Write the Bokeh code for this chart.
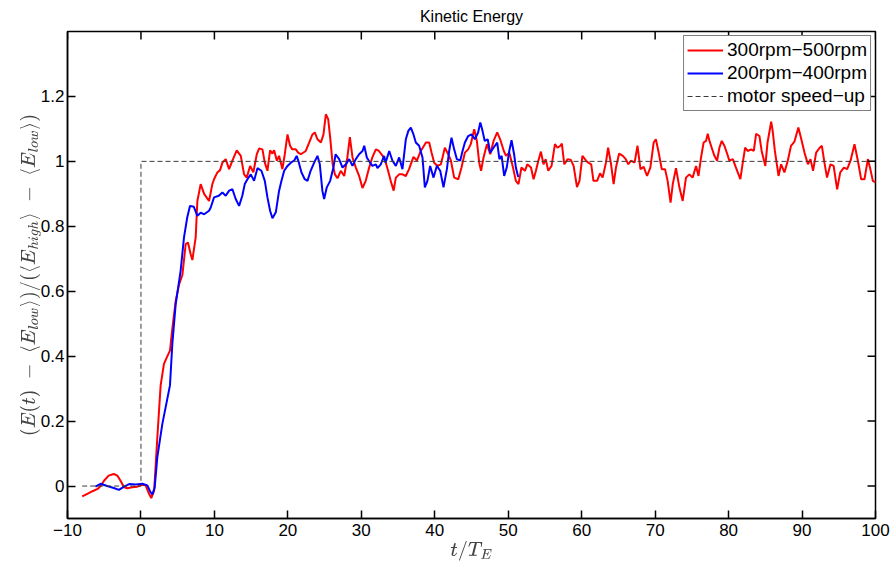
from bokeh.plotting import figure
from bokeh.models import FixedTicker, Legend, LegendItem, Range1d, Title
from bokeh.embed import file_html
from bokeh.resources import INLINE

# ---------------- data ----------------
red_t = [-8.0, -7.3, -6.6, -5.9, -5.5, -5.0, -4.4, -3.7, -3.2, -2.8, -2.3, -1.85, -1.2, -0.5, 0.2, 0.64,
         1.1, 1.4, 1.8, 2.23, 2.68, 3.13, 3.6, 3.95, 4.3, 4.73, 5.18, 5.64, 6.09, 6.4, 6.77, 7.0, 7.45,
         7.68, 8.13, 8.6, 9.27, 9.72, 9.95, 10.4, 10.77, 11.09, 11.54, 12.0, 12.45, 13.04, 13.59, 14.04,
         14.4, 14.86, 15.3, 15.77, 16.1, 16.54, 16.86, 17.22, 17.58, 17.9, 18.13, 18.5, 18.8, 19.26, 19.58,
         19.95, 20.3, 20.6, 21.08, 21.4, 21.76, 22.44, 22.9, 23.35, 23.67, 24.03, 24.5, 24.85, 25.17, 25.49,
         25.76, 26.1, 26.4, 26.76, 27.2, 27.67, 28.1, 28.44, 28.8, 29.25, 29.7, 30.16, 30.6, 31.07, 31.5,
         31.98, 32.4, 32.9, 33.33, 33.6, 34.0, 34.4, 34.7, 35.15, 35.6, 36.06, 36.5, 37.1, 37.56, 38.1,
         38.8, 39.24, 39.56, 39.92, 40.37, 40.83, 41.37, 41.83, 42.2, 42.64, 43.2, 43.64, 44.1, 44.55, 44.9,
         45.37, 45.73, 46.05, 46.3, 46.64, 47.1, 47.55, 48.0, 48.5, 48.9, 49.4, 49.7, 50.14, 50.6, 51.04,
         51.4, 51.8, 52.27, 52.6, 53.1, 53.45, 53.77, 54.1, 54.45, 54.8, 55.1, 55.45, 55.9, 56.36, 56.7,
         57.1, 57.3, 57.63, 58.1, 58.54, 58.9, 59.36, 59.7, 60.1, 60.6, 60.9, 61.3, 61.6, 62.1, 62.5, 62.85,
         63.3, 63.6, 64.0, 64.35, 64.67, 65.1, 65.6, 66.0, 66.35, 66.7, 67.2, 67.6, 68.0, 68.44, 68.9, 69.35,
         69.8, 70.1, 70.44, 70.9, 71.35, 71.7, 72.1, 72.4, 72.84, 73.3, 73.75, 74.2, 74.66, 75.1, 75.57,
         75.9, 76.25, 76.6, 76.93, 77.16, 77.4, 77.7, 78.07, 78.43, 78.75, 79.07, 79.43, 79.8, 80.1, 80.57,
         81.0, 81.6, 81.93, 82.25, 82.6, 83.06, 83.43, 83.75, 84.2, 84.5, 85.0, 85.3, 85.8, 86.0, 86.3, 86.8,
         87.15, 87.6, 88.06, 88.5, 88.97, 89.5, 89.9, 90.33, 90.8, 91.15, 91.5, 91.92, 92.4, 92.7, 93.05,
         93.4, 93.87, 94.3, 94.78, 95.2, 95.7, 96.14, 96.6, 97.14, 97.6, 98.05, 98.5, 98.96, 99.3, 99.64, 100.0]
red_e = [-0.032, -0.024, -0.016, -0.009, 0.0, 0.017, 0.032, 0.037, 0.032, 0.017, -0.004, -0.007, -0.004,
         -0.002, 0.004, 0.002, -0.024, -0.037, -0.014, 0.15, 0.31, 0.376, 0.40, 0.417, 0.49, 0.57, 0.62,
         0.65, 0.745, 0.75, 0.714, 0.696, 0.766, 0.878, 0.93, 0.90, 0.878, 0.93, 0.945, 0.966, 0.973, 0.996,
         1.007, 0.976, 1.002, 1.034, 1.017, 0.96, 0.95, 0.986, 0.966, 1.022, 1.04, 1.037, 0.996, 0.971,
         1.034, 1.024, 1.034, 1.002, 1.017, 0.976, 1.022, 1.083, 1.048, 1.037, 1.037, 1.027, 1.022, 1.032,
         1.058, 1.083, 1.089, 1.068, 1.058, 1.083, 1.145, 1.13, 1.073, 0.991, 0.96, 0.948, 0.971, 0.955,
         1.012, 1.075, 1.012, 0.981, 0.955, 0.918, 0.94, 0.981, 1.012, 1.037, 1.032, 1.017, 0.996, 0.975,
         0.94, 0.91, 0.95, 0.96, 0.96, 0.955, 0.976, 1.014, 1.002, 1.032, 1.058, 1.058, 1.027, 0.996, 0.986,
         0.991, 1.042, 1.022, 1.002, 0.95, 0.945, 0.981, 1.027, 1.037, 1.053, 1.099, 1.063, 0.996, 0.971,
         1.012, 1.053, 1.022, 1.063, 1.089, 1.068, 1.032, 1.017, 1.027, 0.986, 0.94, 0.93, 0.981, 0.971,
         0.991, 0.981, 0.945, 0.971, 1.002, 1.03, 0.991, 1.007, 0.971, 0.986, 1.053, 1.042, 1.048, 1.055,
         0.991, 1.007, 1.004, 0.986, 0.921, 0.94, 1.017, 1.002, 0.996, 0.991, 0.94, 0.94, 0.963, 0.95, 0.996,
         1.042, 0.991, 0.93, 0.981, 1.024, 1.017, 1.007, 0.991, 1.002, 0.996, 1.048, 0.976, 0.983, 0.955,
         0.981, 1.058, 1.068, 1.032, 0.976, 0.976, 0.94, 0.873, 0.93, 0.979, 0.92, 0.878, 0.95, 0.96, 0.95,
         0.986, 0.955, 1.012, 1.058, 1.063, 1.085, 1.063, 1.042, 1.017, 1.002, 1.042, 1.063, 1.048, 1.024,
         1.002, 1.007, 0.981, 0.945, 0.996, 1.042, 1.032, 1.037, 1.032, 1.085, 1.078, 1.032, 0.986, 1.058,
         1.122, 1.094, 1.032, 0.955, 0.991, 0.966, 1.002, 1.048, 1.061, 1.104, 1.068, 1.027, 0.991, 1.007,
         0.971, 1.027, 1.042, 1.048, 0.996, 0.95, 0.991, 0.986, 0.914, 0.966, 0.981, 0.976, 1.002, 1.053,
         1.002, 0.945, 0.945, 1.007, 0.976, 0.94, 0.935]

blue_t = [-6.2, -5.5, -4.6, -3.7, -3.0, -2.3, -1.6, -0.7, 0.2, 0.87, 1.3, 1.55, 1.87, 2.23, 2.9, 3.6, 3.95,
          4.27, 4.73, 5.4, 5.86, 6.3, 6.68, 7.2, 7.68, 8.13, 8.6, 9.27, 9.5, 9.95, 10.6, 11.09, 11.54, 12.0,
          12.45, 12.9, 13.36, 13.8, 14.13, 14.5, 14.95, 15.4, 15.86, 16.4, 16.86, 17.22, 17.58, 17.9, 18.36,
          18.8, 19.13, 19.5, 19.95, 20.4, 20.85, 21.2, 21.5, 21.85, 22.3, 22.67, 23.1, 23.58, 24.03, 24.35,
          24.7, 24.94, 25.3, 25.76, 26.2, 26.5, 26.98, 27.44, 27.9, 28.35, 28.8, 29.25, 29.7, 30.16, 30.4,
          30.75, 31.2, 31.5, 31.98, 32.2, 32.65, 33.1, 33.3, 33.8, 34.24, 34.7, 35.15, 35.6, 36.06, 36.4,
          36.74, 37.1, 37.42, 37.87, 38.33, 38.65, 39.0, 39.37, 39.83, 40.28, 40.74, 41.19, 41.65, 41.96,
          42.28, 42.64, 43.0, 43.46, 43.78, 44.1, 44.55, 45.0, 45.46, 45.9, 46.2, 46.5, 46.8, 47.2, 47.55,
          48.0, 48.5, 48.8, 49.1, 49.45, 49.8, 50.14, 50.45, 50.8, 51.04, 51.36]
blue_e = [-0.002, 0.007, 0.0, -0.006, -0.012, -0.002, 0.006, 0.005, 0.007, 0.002, -0.019, -0.026, -0.004,
          0.089, 0.19, 0.27, 0.31, 0.437, 0.56, 0.663, 0.766, 0.827, 0.863, 0.86, 0.832, 0.842, 0.837, 0.848,
          0.858, 0.889, 0.894, 0.904, 0.894, 0.91, 0.914, 0.884, 0.863, 0.894, 0.93, 0.945, 0.96, 0.94, 0.979,
          0.971, 0.94, 0.889, 0.848, 0.825, 0.843, 0.909, 0.94, 0.971, 0.986, 0.996, 1.002, 1.017, 0.996,
          0.966, 0.945, 0.94, 0.971, 0.996, 1.017, 0.991, 0.909, 0.884, 0.92, 0.94, 0.981, 1.022, 1.007,
          0.981, 0.991, 1.007, 0.986, 1.007, 1.022, 1.032, 1.048, 1.012, 0.996, 0.986, 0.991, 0.979, 0.991,
          1.017, 0.996, 1.032, 1.002, 0.986, 1.012, 0.976, 1.068, 1.094, 1.104, 1.083, 1.058, 1.048, 1.012,
          0.92, 0.94, 0.986, 0.95, 0.986, 0.971, 0.92, 0.976, 1.032, 1.073, 1.037, 1.007, 1.002, 1.032,
          1.058, 1.078, 1.083, 1.068, 1.089, 1.12, 1.094, 1.063, 1.068, 1.027, 1.042, 1.058, 1.007, 1.017,
          0.955, 0.981, 1.032, 1.065, 1.022, 0.981, 0.952]

motor_t = [-8, 0, 0, 100]
motor_e = [0, 0, 1, 1]

x_ticks = [-10, 0, 10, 20, 30, 40, 50, 60, 70, 80, 90, 100]
y_ticks = [0, 0.2, 0.4, 0.6, 0.8, 1.0, 1.2]
x_tick_labels = {-10: "\u221210"}
y_tick_labels = {0: "0", 0.2: "0.2", 0.4: "0.4", 0.6: "0.6", 0.8: "0.8", 1.0: "1", 1.2: "1.2"}

X_MIN, X_MAX = -10, 100
Y_MIN, Y_MAX = -0.1, 1.4

FONT = "Liberation Sans"
W, H = 895, 569
BL, BR, BT, BB = 67, 20, 31, 51
TICK_PX = 8
FRAME_W = W - BL - BR
FRAME_H = H - BT - BB

p = figure(width=W, height=H, x_range=Range1d(X_MIN, X_MAX), y_range=Range1d(Y_MIN, Y_MAX),
           output_backend="svg", toolbar_location=None, title=None,
           min_border_left=BL, min_border_right=BR, min_border_top=BT, min_border_bottom=BB)
p.background_fill_color = "white"
p.border_fill_color = "white"
p.outline_line_color = "black"
p.outline_line_width = 1.5
p.grid.visible = False

r_red = p.line(red_t, red_e, line_color="#ff0000", line_width=2)
r_blue = p.line(blue_t, blue_e, line_color="#0000ff", line_width=2)
r_motor = p.line(motor_t, motor_e, line_color="#3a3a3a", line_width=1, line_dash="5 3")

# mirrored inward ticks on the top and right edges (box style)
dx = TICK_PX * (X_MAX - X_MIN) / FRAME_W
dy = TICK_PX * (Y_MAX - Y_MIN) / FRAME_H
p.segment(x0=x_ticks, y0=[Y_MAX] * len(x_ticks), x1=x_ticks, y1=[Y_MAX - dy] * len(x_ticks),
          line_color="black", line_width=1.5)
p.segment(x0=[X_MAX] * len(y_ticks), y0=y_ticks, x1=[X_MAX - dx] * len(y_ticks), y1=y_ticks,
          line_color="black", line_width=1.5)


def style_axis(ax, ticks, overrides):
    ax.ticker = FixedTicker(ticks=ticks)
    ax.major_tick_in = TICK_PX
    ax.major_tick_out = 0
    ax.minor_tick_line_color = None
    ax.major_tick_line_color = "black"
    ax.major_tick_line_width = 1.5
    ax.axis_line_color = "black"
    ax.axis_line_width = 1.5
    ax.major_label_text_font = FONT
    ax.major_label_text_color = "black"
    ax.major_label_text_font_size = "17px"
    ax.major_label_overrides = overrides


xa = p.xaxis[0]
ya = p.yaxis[0]
style_axis(xa, x_ticks, x_tick_labels)
style_axis(ya, y_ticks, y_tick_labels)
xa.major_label_standoff = 5
ya.major_label_standoff = 3

xa.axis_label = r"$$t/T_E$$"
xa.axis_label_text_font_size = "16px"
xa.axis_label_standoff = 2
ya.axis_label = r"$$(E(t)\;-\;\langle E_{low}\rangle)/(\langle E_{high}\rangle\;-\;\langle E_{low}\rangle)$$"
ya.axis_label_text_font_size = "16px"
ya.axis_label_standoff = -3

title = Title(text="Kinetic Energy", align="center", vertical_align="top", text_font=FONT,
              text_font_size="16px", text_font_style="normal", text_color="black", standoff=9)
p.add_layout(title, "above")

legend = Legend(items=[
    LegendItem(label="300rpm\u2212500rpm", renderers=[r_red]),
    LegendItem(label="200rpm\u2212400rpm", renderers=[r_blue]),
    LegendItem(label="motor speed\u2212up", renderers=[r_motor]),
], location="top_right")
legend.label_text_font = FONT
legend.label_text_font_size = "19px"
legend.label_text_color = "black"
legend.border_line_color = "black"
legend.border_line_width = 1
legend.background_fill_color = "white"
legend.background_fill_alpha = 1
legend.glyph_width = 36
legend.glyph_height = 20
legend.label_height = 20
legend.label_standoff = 4
legend.spacing = 1
legend.padding = 3
legend.margin = 4
p.add_layout(legend)

open("out.html", "w").write(file_html(p, INLINE))
